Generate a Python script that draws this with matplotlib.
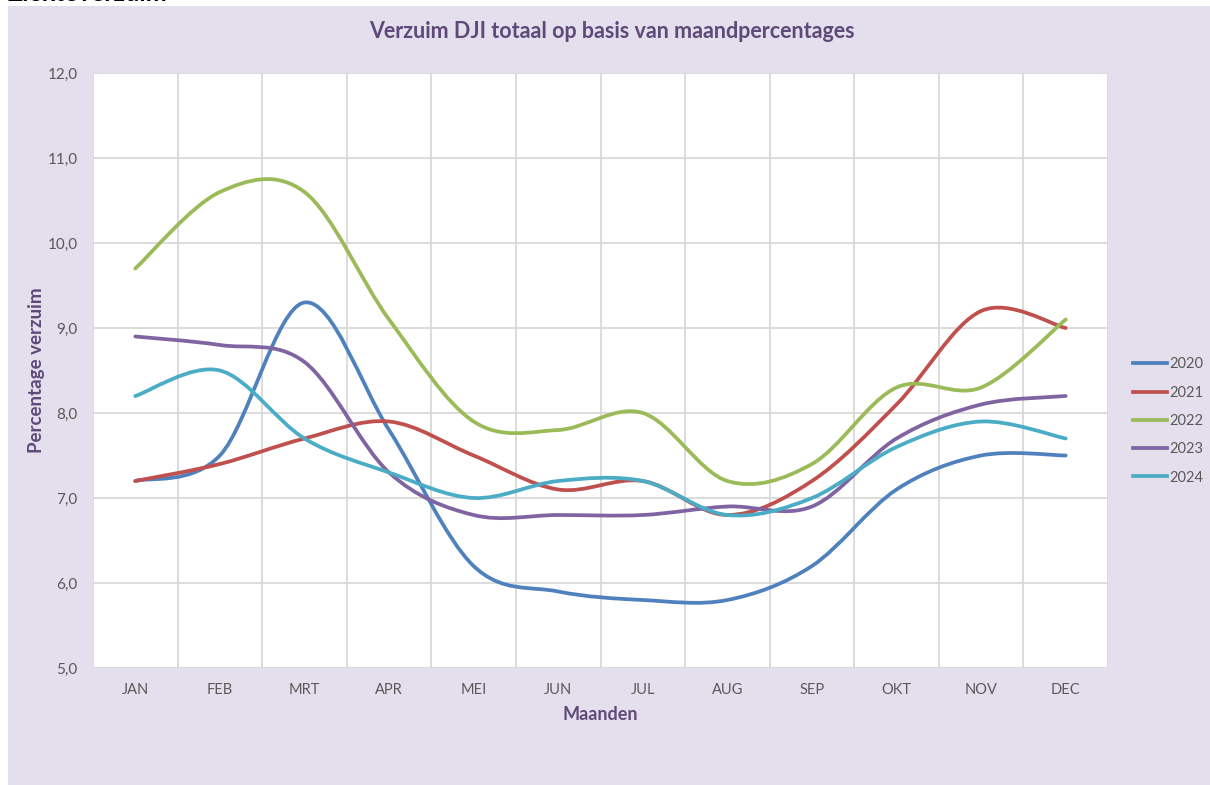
import matplotlib
matplotlib.use("Agg")
import matplotlib.pyplot as plt
from matplotlib.path import Path
from matplotlib.patches import PathPatch, Rectangle
from matplotlib.lines import Line2D
import numpy as np

months = ["JAN", "FEB", "MRT", "APR", "MEI", "JUN", "JUL", "AUG", "SEP", "OKT", "NOV", "DEC"]
v2020 = [7.2, 7.5, 9.3, 7.8, 6.2, 5.9, 5.8, 5.8, 6.2, 7.1, 7.5, 7.5]
v2021 = [7.2, 7.4, 7.7, 7.9, 7.5, 7.1, 7.2, 6.8, 7.2, 8.1, 9.2, 9.0]
v2022 = [9.7, 10.6, 10.6, 9.1, 7.9, 7.8, 8.0, 7.2, 7.4, 8.3, 8.3, 9.1]
v2023 = [8.9, 8.8, 8.6, 7.3, 6.8, 6.8, 6.8, 6.9, 6.9, 7.7, 8.1, 8.2]
v2024 = [8.2, 8.5, 7.7, 7.3, 7.0, 7.2, 7.2, 6.8, 7.0, 7.6, 7.9, 7.7]
years = ["2020", "2021", "2022", "2023", "2024"]
series = [v2020, v2021, v2022, v2023, v2024]
colors = ["#4F81BD", "#C0504D", "#9BBB59", "#8064A2", "#4BACC6"]
yticks = [5.0, 6.0, 7.0, 8.0, 9.0, 10.0, 11.0, 12.0]

purple = "#5F497A"
grey = "#595959"
FONT = "Lato"

W, H = 1210, 785
fig = plt.figure(figsize=(W / 100, H / 100), dpi=100)
fig.patch.set_facecolor("white")
fig.patches.append(Rectangle((8 / W, 0), 1 - 8 / W, 1 - 6 / H, transform=fig.transFigure,
                             facecolor="#E4DFEC", edgecolor="none", zorder=-10))
fig.text(8 / W, 1 - 1 / H, "Ziekteverzuim", fontsize=18, fontweight="bold", color="black",
         family=FONT, va="baseline", ha="left")

L, R, T, B = 93, 1108, 73, 668
ax = fig.add_axes([L / W, 1 - B / H, (R - L) / W, (B - T) / H])
ax.set_facecolor("white")
ax.set_xlim(-0.5, len(months) - 0.5)
ax.set_ylim(5, 12)
for s in ax.spines.values():
    s.set_visible(False)

# gridlines
for y in yticks:
    ax.axhline(y, color="#D9D9D9", lw=1.3, zorder=1)
for i in range(len(months) + 1):
    ax.axvline(i - 0.5, color="#D9D9D9", lw=1.3, zorder=1)

def smooth_path(xs, ys):
    pts = np.column_stack([xs, ys]).astype(float)
    n = len(pts)
    verts = [pts[0]]
    codes = [Path.MOVETO]
    for i in range(n - 1):
        p0 = pts[i - 1] if i > 0 else pts[i]
        p1 = pts[i]
        p2 = pts[i + 1]
        p3 = pts[i + 2] if i + 2 < n else pts[i + 1]
        c1 = p1 + (p2 - p0) / 6.0
        c2 = p2 - (p3 - p1) / 6.0
        verts += [c1, c2, p2]
        codes += [Path.CURVE4] * 3
    return Path(verts, codes)

x = np.arange(len(months))
for vals, c in zip(series, colors):
    ax.add_patch(PathPatch(smooth_path(x, vals), facecolor="none", edgecolor=c, lw=2.7,
                           capstyle="round", joinstyle="round", zorder=3))

ax.set_xticks(x)
ax.set_xticklabels(months, family=FONT, fontsize=10.5, color=grey)
ax.set_yticks(yticks)
ax.set_yticklabels([f"{v:.1f}".replace(".", ",") for v in yticks], family=FONT, fontsize=11, color=grey)
ax.tick_params(axis="both", length=0)
ax.tick_params(axis="x", pad=11)
ax.tick_params(axis="y", pad=11)

ax.set_xlabel("Maanden", family=FONT, fontsize=13, fontweight="bold", color=purple, labelpad=6)
ax.set_ylabel("Percentage verzuim", family=FONT, fontsize=13.5, fontweight="bold", color=purple)
ax.yaxis.set_label_coords(-0.047, 0.5)

fig.text(612 / W, 1 - 32 / H, "Verzuim DJI totaal op basis van maandpercentages", family=FONT,
         fontsize=15.5, fontweight="bold", color=purple, ha="center", va="center")

handles = [Line2D([0], [0], color=c, lw=2.7) for c in colors]
leg = fig.legend(handles, years, loc="center left", bbox_to_anchor=(1120 / W, 1 - 421 / H),
                 frameon=False, prop={"family": FONT, "size": 10.5}, labelcolor=grey,
                 handlelength=2.3, handletextpad=0.2, labelspacing=0.98)

fig.savefig("out.png", dpi=100, facecolor=fig.get_facecolor())
